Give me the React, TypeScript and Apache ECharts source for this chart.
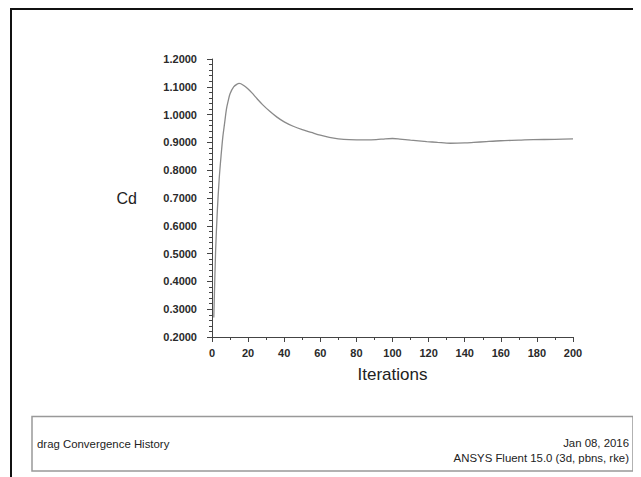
import React, { useEffect, useRef } from "react";
import * as echarts from "echarts";

const iterations = [1, 2, 3, 4, 5, 6, 7, 8, 9, 10, 12, 14, 15, 16, 18, 20, 22, 25, 28, 32, 36, 40, 45, 50, 55, 60, 65, 70, 76, 85, 91, 96, 100, 104, 110, 119, 125, 132, 140, 145, 152, 160, 170, 178, 190, 200];
const cdValues = [0.27, 0.51, 0.66, 0.77, 0.85, 0.92, 0.97, 1.02, 1.05, 1.075, 1.1, 1.11, 1.112, 1.111, 1.103, 1.092, 1.079, 1.057, 1.036, 1.012, 0.991, 0.974, 0.958, 0.946, 0.936, 0.926, 0.918, 0.913, 0.91, 0.909, 0.91, 0.913, 0.914, 0.912, 0.908, 0.903, 0.9, 0.897, 0.898, 0.9, 0.903, 0.906, 0.908, 0.91, 0.911, 0.913];
const titleLeft = "drag Convergence History";
const infoLines = ["Jan 08, 2016", "ANSYS Fluent 15.0 (3d, pbns, rke)"];

export default function App() {
  const ref = useRef<HTMLDivElement>(null);
  useEffect(() => {
    if (!ref.current) return;
    const chart = echarts.init(ref.current, null, { renderer: "svg" });
    const font = "Arial, 'Liberation Sans', sans-serif";
    const boxFont = "11.4px Arial, 'Liberation Sans', sans-serif";
    chart.setOption({
      animation: false,
      backgroundColor: "#fff",
      textStyle: { fontFamily: font },
      grid: { left: 204, right: 68, top: 51, bottom: 140 },
      xAxis: {
        type: "value",
        min: 0,
        max: 200,
        interval: 20,
        name: "Iterations",
        nameLocation: "middle",
        nameGap: 29,
        nameTextStyle: { fontSize: 17, color: "#222", fontFamily: font },
        axisLine: { show: true, onZero: false, lineStyle: { color: "#444", width: 1 } },
        axisTick: { show: true, length: 5, lineStyle: { color: "#444" } },
        minorTick: { show: true, splitNumber: 2, length: 3, lineStyle: { color: "#444" } },
        splitLine: { show: false },
        axisLabel: { fontSize: 11, fontWeight: "bold", color: "#2a2a2a", margin: 10, fontFamily: font },
      },
      yAxis: {
        type: "value",
        min: 0.2,
        max: 1.2,
        interval: 0.1,
        name: "Cd",
        nameLocation: "middle",
        nameRotate: 0,
        nameGap: 75,
        nameTextStyle: { fontSize: 16, color: "#222", fontFamily: font },
        axisLine: { show: true, onZero: false, lineStyle: { color: "#444", width: 1 } },
        axisTick: { show: true, length: 5, lineStyle: { color: "#444" } },
        minorTick: { show: true, splitNumber: 5, length: 3, lineStyle: { color: "#444" } },
        splitLine: { show: false },
        axisLabel: {
          fontSize: 11,
          fontWeight: "bold",
          color: "#2a2a2a",
          margin: 15,
          fontFamily: font,
          formatter: (v: number) => v.toFixed(4),
        },
      },
      series: [
        {
          type: "line",
          data: iterations.map((it, i) => [it, cdValues[i]]),
          showSymbol: false,
          smooth: 0.3,
          lineStyle: { color: "#8a8a8a", width: 1.3 },
        },
      ],
      graphic: [
        {
          type: "rect",
          shape: { x: 3, y: 1, width: 700, height: 600 },
          style: { fill: "none", stroke: "#111", lineWidth: 2 },
          silent: true,
        },
        {
          type: "rect",
          shape: { x: 24, y: 408.5, width: 601, height: 54.5 },
          style: { fill: "#fff", stroke: "#999", lineWidth: 1.5 },
          silent: true,
        },
        {
          type: "text",
          x: 29,
          y: 435.5,
          style: { text: titleLeft, fill: "#222", font: boxFont, textVerticalAlign: "middle" },
        },
        {
          type: "text",
          x: 621,
          y: 435,
          style: { text: infoLines[0], fill: "#222", font: boxFont, textAlign: "right", textVerticalAlign: "middle" },
        },
        {
          type: "text",
          x: 621,
          y: 450,
          style: { text: infoLines[1], fill: "#222", font: boxFont, textAlign: "right", textVerticalAlign: "middle" },
        },
      ],
    });
    return () => chart.dispose();
  }, []);
  return <div ref={ref} style={{ width: 633, height: 469 }} />;
}
